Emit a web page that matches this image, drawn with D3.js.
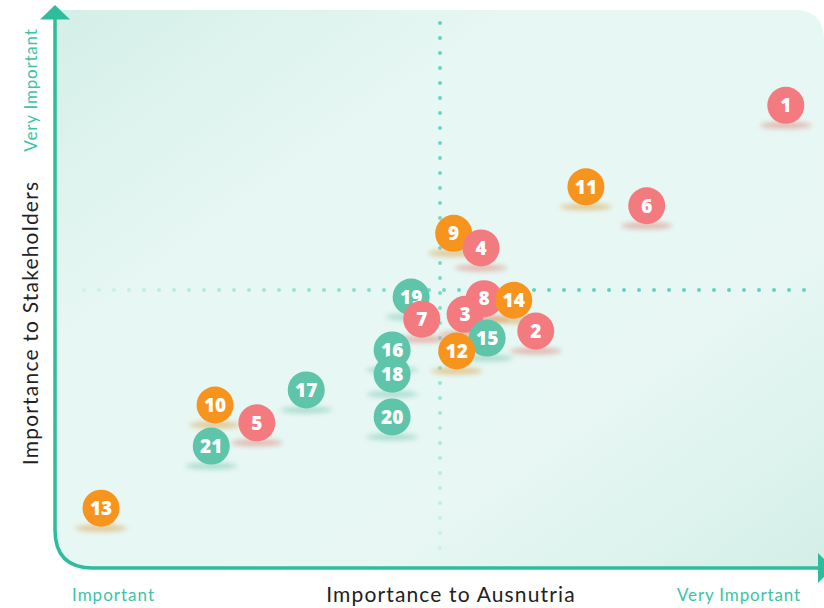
<!DOCTYPE html>
<html>
<head>
<meta charset="utf-8">
<script src="https://d3js.org/d3.v7.min.js"></script>
<style>
  body { margin: 0; background: #ffffff; }
  svg { display: block; }
</style>
</head>
<body>
<div id="my_dataviz"></div>
<script>
// issue numbers, in the order they get drawn (later ones sit on top)
var issues = [1, 11, 6, 9, 4, 19, 7, 8, 3, 14, 2, 15, 12, 16, 18, 17, 10, 5, 20, 21, 13];
// importance to Ausnutria (0-10)
var ausnutria = [9.55, 6.92, 7.72, 5.18, 5.54, 4.62, 4.76, 5.58, 5.33, 5.97, 6.26, 5.62, 5.22, 4.37, 4.37, 3.24, 2.04, 2.59, 4.37, 1.99, 0.54];
// importance to stakeholders (0-10)
var stakeholders = [8.42, 6.91, 6.56, 6.05, 5.78, 4.87, 4.46, 4.84, 4.55, 4.81, 4.24, 4.11, 3.87, 3.89, 3.44, 3.15, 2.87, 2.54, 2.65, 2.11, 0.96];
// category of each issue
var groups = ["red", "orange", "red", "orange", "red", "teal", "red", "red", "red", "orange", "red", "teal", "orange", "teal", "teal", "teal", "orange", "red", "teal", "teal", "orange"];

var axisLabels = ["Important", "Very Important"];
var xTitle = "Importance to Ausnutria";
var yTitle = "Importance to Stakeholders";

var W = 824, H = 608;

var svg = d3.select("#my_dataviz")
  .append("svg")
    .attr("width", W)
    .attr("height", H);

var x = d3.scaleLinear().domain([0, 10]).range([60, 820]);
var y = d3.scaleLinear().domain([0, 10]).range([560, 20]);

var color = d3.scaleOrdinal()
  .domain(["red", "orange", "teal"])
  .range(["#f37b80", "#f7941e", "#5ec4aa"]);
var shadowColor = d3.scaleOrdinal()
  .domain(["red", "orange", "teal"])
  .range(["#d98a7e", "#d9a450", "#7ec9b4"]);

var teal = "#2dbd9c";

var defs = svg.append("defs");

// background gradient, darker in the corners
var bg = defs.append("linearGradient")
  .attr("id", "bg")
  .attr("x1", "0").attr("y1", "0").attr("x2", "1").attr("y2", "1");
bg.append("stop").attr("offset", "0").attr("stop-color", "#d4efe8");
bg.append("stop").attr("offset", "0.3").attr("stop-color", "#e7f7f3");
bg.append("stop").attr("offset", "0.7").attr("stop-color", "#e8f7f4");
bg.append("stop").attr("offset", "1").attr("stop-color", "#d4efe8");

// dotted line fades
var hfade = defs.append("linearGradient")
  .attr("id", "hfade")
  .attr("gradientUnits", "userSpaceOnUse")
  .attr("x1", 80).attr("y1", 0).attr("x2", 520).attr("y2", 0);
hfade.append("stop").attr("offset", "0").attr("stop-color", "#5fd3c2").attr("stop-opacity", 0.15);
hfade.append("stop").attr("offset", "1").attr("stop-color", "#5fd3c2").attr("stop-opacity", 1);

var vfade = defs.append("linearGradient")
  .attr("id", "vfade")
  .attr("gradientUnits", "userSpaceOnUse")
  .attr("x1", 0).attr("y1", 20).attr("x2", 0).attr("y2", 560);
vfade.append("stop").attr("offset", "0").attr("stop-color", "#5fd3c2").attr("stop-opacity", 1);
vfade.append("stop").attr("offset", "0.5").attr("stop-color", "#5fd3c2").attr("stop-opacity", 0.8);
vfade.append("stop").attr("offset", "1").attr("stop-color", "#5fd3c2").attr("stop-opacity", 0.15);

defs.append("filter")
  .attr("id", "blur")
  .attr("x", "-50%").attr("y", "-200%").attr("width", "200%").attr("height", "500%")
  .append("feGaussianBlur").attr("stdDeviation", 2.4);

// background panel: square top-left and bottom-right, rounded elsewhere
var L = 55, T = 10, R = 824, B = 568, r1 = 30, r2 = 38;
svg.append("path")
  .attr("d", "M" + L + "," + T + " L" + (R - r1) + "," + T +
    " Q" + R + "," + T + " " + R + "," + (T + r1) +
    " L" + R + "," + B + " L" + (L + r2) + "," + B +
    " Q" + L + "," + B + " " + L + "," + (B - r2) + " Z")
  .attr("fill", "url(#bg)");

// quadrant dotted lines at the middle of both scales
svg.append("line")
  .attr("x1", x(5)).attr("x2", x(5))
  .attr("y1", 23).attr("y2", 558)
  .attr("stroke", "url(#vfade)")
  .attr("stroke-width", 4)
  .attr("stroke-linecap", "round")
  .attr("stroke-dasharray", "0 15");

svg.append("line")
  .attr("x1", 84).attr("x2", 815)
  .attr("y1", y(5)).attr("y2", y(5))
  .attr("stroke", "url(#hfade)")
  .attr("stroke-width", 4)
  .attr("stroke-linecap", "round")
  .attr("stroke-dasharray", "0 15");

// axes: one L shaped line with a rounded corner
svg.append("path")
  .attr("d", "M" + L + ",18 L" + L + "," + (B - r2) +
    " Q" + L + "," + B + " " + (L + r2) + "," + B + " L819," + B)
  .attr("fill", "none")
  .attr("stroke", teal)
  .attr("stroke-width", 3.5);

svg.append("path")
  .attr("d", "M40,19.5 L70,19.5 L55,5 Z")
  .attr("fill", teal);
svg.append("path")
  .attr("d", "M818,553 L818,583 L833,568 Z")
  .attr("fill", teal);

// axis texts
svg.append("text")
  .attr("x", 72).attr("y", 601)
  .attr("font-family", "Lato, sans-serif")
  .attr("font-size", "17px")
  .attr("letter-spacing", "1px")
  .attr("fill", "#3cc4a4")
  .text(axisLabels[0]);

svg.append("text")
  .attr("x", 801).attr("y", 601)
  .attr("text-anchor", "end")
  .attr("font-family", "Lato, sans-serif")
  .attr("font-size", "17px")
  .attr("letter-spacing", "0.85px")
  .attr("fill", "#3cc4a4")
  .text(axisLabels[1]);

svg.append("text")
  .attr("transform", "translate(37,90) rotate(-90)")
  .attr("text-anchor", "middle")
  .attr("font-family", "Lato, sans-serif")
  .attr("font-size", "17px")
  .attr("letter-spacing", "0.8px")
  .attr("fill", "#3cc4a4")
  .text(axisLabels[1]);

svg.append("text")
  .attr("x", 451).attr("y", 602)
  .attr("text-anchor", "middle")
  .attr("font-family", "Lato, sans-serif")
  .attr("font-size", "21px")
  .attr("letter-spacing", "1.15px")
  .attr("fill", "#222222")
  .text(xTitle);

svg.append("text")
  .attr("transform", "translate(38,323) rotate(-90)")
  .attr("text-anchor", "middle")
  .attr("font-family", "Lato, sans-serif")
  .attr("font-size", "21px")
  .attr("letter-spacing", "1.2px")
  .attr("fill", "#222222")
  .text(yTitle);

// bubbles
var data = issues.map(function(d, i) {
  return { id: d, ax: ausnutria[i], st: stakeholders[i], g: groups[i] };
});

var bubble = svg.append("g")
  .selectAll("g")
  .data(data)
  .enter().append("g")
    .attr("transform", function(d) { return "translate(" + x(d.ax) + "," + y(d.st) + ")"; });

bubble.append("ellipse")
  .attr("cx", 0).attr("cy", 20)
  .attr("rx", 26).attr("ry", 3.5)
  .attr("fill", function(d) { return shadowColor(d.g); })
  .attr("opacity", 0.55)
  .attr("filter", "url(#blur)");

bubble.append("circle")
  .attr("r", 18.5)
  .attr("fill", function(d) { return color(d.g); });

bubble.append("text")
  .attr("y", 6.8)
  .attr("text-anchor", "middle")
  .attr("font-family", "'Open Sans', sans-serif")
  .attr("font-weight", 800)
  .attr("font-size", "19px")
  .attr("fill", "#ffffff")
  .text(function(d) { return d.id; });
</script>
</body>
</html>
